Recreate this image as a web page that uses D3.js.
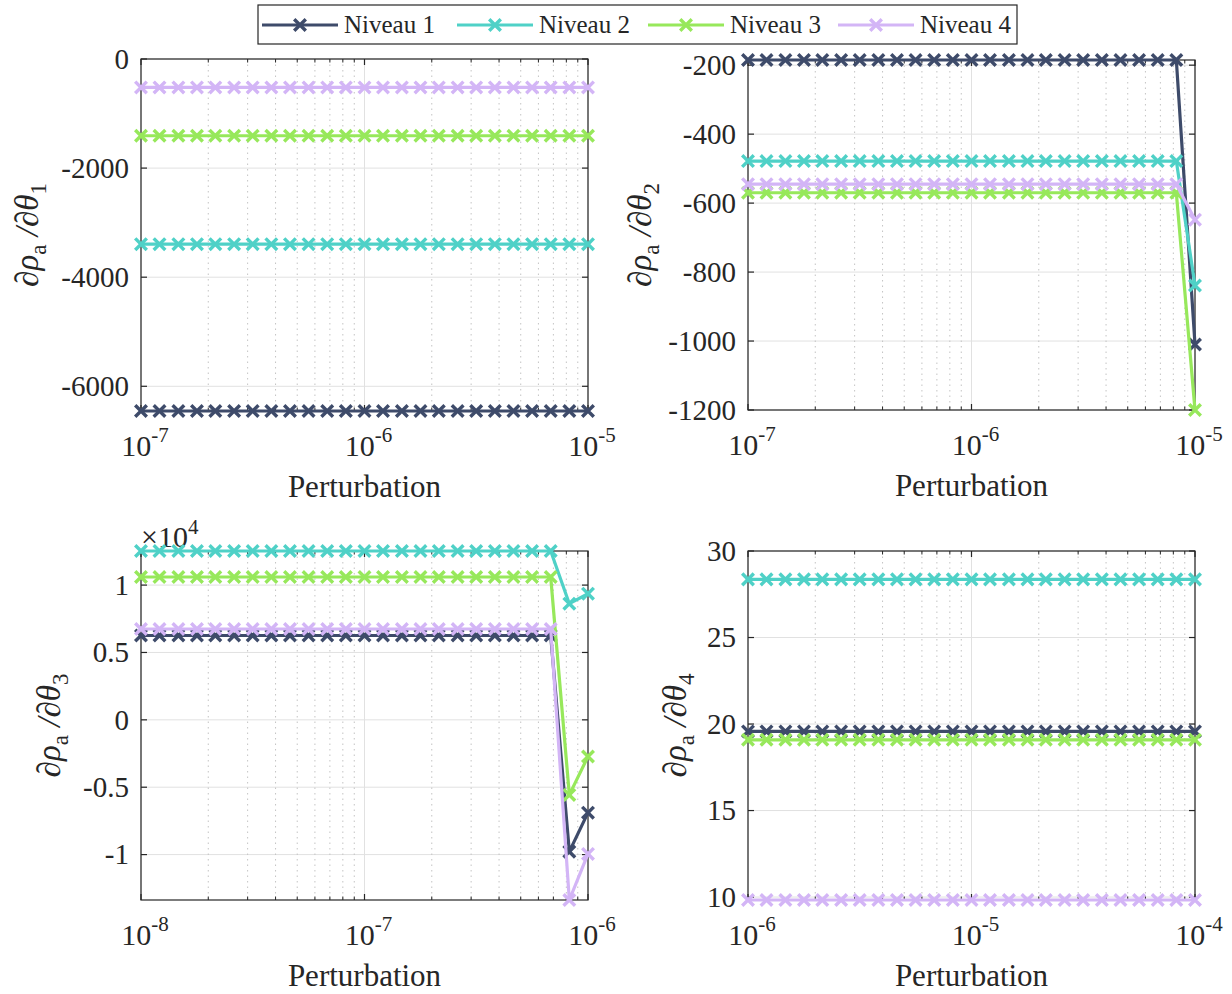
<!DOCTYPE html>
<html>
<head>
<meta charset="utf-8">
<script src="https://cdn.jsdelivr.net/npm/d3@7"></script>
<style>
  html, body { margin: 0; padding: 0; background: #fff; }
  svg { display: block; }
</style>
</head>
<body>
<svg id="chart" width="1232" height="994" font-family="'Liberation Serif', 'DejaVu Serif', serif"></svg>
<script>
// ---------------- DATA ----------------
const seriesNames = ["Niveau 1", "Niveau 2", "Niveau 3", "Niveau 4"];
const seriesColors = ["#3e4b6a", "#4fd1c7", "#97e85b", "#d3b5f6"];

// perturbation multipliers (25 log-spaced samples over two decades)
const pertFactors = [1.00, 1.21, 1.47, 1.78, 2.15, 2.61, 3.16, 3.83, 4.64, 5.62, 6.81, 8.25,
                     10.0, 12.1, 14.7, 17.8, 21.5, 26.1, 31.6, 38.3, 46.4, 56.2, 68.1, 82.5, 100.0];
const pertBase = [1e-7, 1e-7, 1e-8, 1e-6];   // first perturbation of each panel

// Panel 1 : dρa/dθ1
const p1_n1 = [-6453,-6453,-6453,-6453,-6453,-6453,-6453,-6453,-6453,-6453,-6453,-6453,-6453,-6453,-6453,-6453,-6453,-6453,-6453,-6453,-6453,-6453,-6453,-6453,-6453];
const p1_n2 = [-3394,-3394,-3394,-3394,-3394,-3394,-3394,-3394,-3394,-3394,-3394,-3394,-3394,-3394,-3394,-3394,-3394,-3394,-3394,-3394,-3394,-3394,-3394,-3394,-3394];
const p1_n3 = [-1407,-1407,-1407,-1407,-1407,-1407,-1407,-1407,-1407,-1407,-1407,-1407,-1407,-1407,-1407,-1407,-1407,-1407,-1407,-1407,-1407,-1407,-1407,-1407,-1407];
const p1_n4 = [-521,-521,-521,-521,-521,-521,-521,-521,-521,-521,-521,-521,-521,-521,-521,-521,-521,-521,-521,-521,-521,-521,-521,-521,-521];

// Panel 2 : dρa/dθ2
const p2_n1 = [-185,-185,-185,-185,-185,-185,-185,-185,-185,-185,-185,-185,-185,-185,-185,-185,-185,-185,-185,-185,-185,-185,-185,-185,-1010];
const p2_n2 = [-478,-478,-478,-478,-478,-478,-478,-478,-478,-478,-478,-478,-478,-478,-478,-478,-478,-478,-478,-478,-478,-478,-478,-478,-839];
const p2_n3 = [-570,-570,-570,-570,-570,-570,-570,-570,-570,-570,-570,-570,-570,-570,-570,-570,-570,-570,-570,-570,-570,-570,-570,-570,-1200];
const p2_n4 = [-545,-545,-545,-545,-545,-545,-545,-545,-545,-545,-545,-545,-545,-545,-545,-545,-545,-545,-545,-545,-545,-545,-545,-545,-648];

// Panel 3 : dρa/dθ3
const p3_n1 = [6260,6260,6260,6260,6260,6260,6260,6260,6260,6260,6260,6260,6260,6260,6260,6260,6260,6260,6260,6260,6260,6260,6260,-9780,-6890];
const p3_n2 = [12530,12530,12530,12530,12530,12530,12530,12530,12530,12530,12530,12530,12530,12530,12530,12530,12530,12530,12530,12530,12530,12530,12530,8620,9360];
const p3_n3 = [10600,10600,10600,10600,10600,10600,10600,10600,10600,10600,10600,10600,10600,10600,10600,10600,10600,10600,10600,10600,10600,10600,10600,-5570,-2720];
const p3_n4 = [6740,6740,6740,6740,6740,6740,6740,6740,6740,6740,6740,6740,6740,6740,6740,6740,6740,6740,6740,6740,6740,6740,6740,-13370,-9950];

// Panel 4 : dρa/dθ4
const p4_n1 = [19.57,19.57,19.57,19.57,19.57,19.57,19.57,19.57,19.57,19.57,19.57,19.57,19.57,19.57,19.57,19.57,19.57,19.57,19.57,19.57,19.57,19.57,19.57,19.57,19.57];
const p4_n2 = [28.36,28.36,28.36,28.36,28.36,28.36,28.36,28.36,28.36,28.36,28.36,28.36,28.36,28.36,28.36,28.36,28.36,28.36,28.36,28.36,28.36,28.36,28.36,28.36,28.36];
const p4_n3 = [19.09,19.09,19.09,19.09,19.09,19.09,19.09,19.09,19.09,19.09,19.09,19.09,19.09,19.09,19.09,19.09,19.09,19.09,19.09,19.09,19.09,19.09,19.09,19.09,19.09];
const p4_n4 = [9.83,9.83,9.83,9.83,9.83,9.83,9.83,9.83,9.83,9.83,9.83,9.83,9.83,9.83,9.83,9.83,9.83,9.83,9.83,9.83,9.83,9.83,9.83,9.83,9.83];

// axis limits and ticks
const yDomains = [[-6453, 0], [-1200, -185], [-13370, 12530], [9.83, 30]];
const yTicks = [[0, -2000, -4000, -6000],
                [-200, -400, -600, -800, -1000, -1200],
                [-10000, -5000, 0, 5000, 10000],
                [10, 15, 20, 25, 30]];
const yTickLabels = [["0", "-2000", "-4000", "-6000"],
                     ["-200", "-400", "-600", "-800", "-1000", "-1200"],
                     ["-1", "-0.5", "0", "0.5", "1"],
                     ["10", "15", "20", "25", "30"]];
const xDecades = [[-7, -6, -5], [-7, -6, -5], [-8, -7, -6], [-6, -5, -4]];
const ySubscripts = ["1", "2", "3", "4"];
const xLabel = "Perturbation";

// ---------------- LAYOUT ----------------
const FONT = "'Liberation Serif', 'DejaVu Serif', serif";
const panels = [
  { x0: 141, x1: 588, y0: 59, y1: 411, ylabX: 28 },
  { x0: 748, x1: 1195, y0: 60, y1: 410, ylabX: 641 },
  { x0: 141, x1: 588, y0: 551, y1: 900, ylabX: 50 },
  { x0: 748, x1: 1195, y0: 551, y1: 900, ylabX: 676 }
];
const panelSeries = [
  [p1_n1, p1_n2, p1_n3, p1_n4],
  [p2_n1, p2_n2, p2_n3, p2_n4],
  [p3_n1, p3_n2, p3_n3, p3_n4],
  [p4_n1, p4_n2, p4_n3, p4_n4]
];

const svg = d3.select("#chart");
const axisColor = "#262626";
function txt(sel) {
  return sel.append("text").attr("font-family", FONT).attr("fill", axisColor);
}

panels.forEach((P, pi) => {
  const decs = xDecades[pi];
  const x = d3.scaleLog().domain([Math.pow(10, decs[0]), Math.pow(10, decs[decs.length - 1])]).range([P.x0, P.x1]);
  const y = d3.scaleLinear().domain(yDomains[pi]).range([P.y1, P.y0]);
  const g = svg.append("g");

  const minor = [];
  for (let d = 0; d < decs.length - 1; d++) {
    for (let m = 2; m <= 9; m++) minor.push(m * Math.pow(10, decs[d]));
  }
  const major = decs.map(d => Math.pow(10, d));

  // grid
  g.selectAll(".ymaj").data(yTicks[pi]).join("line")
    .attr("x1", P.x0).attr("x2", P.x1)
    .attr("y1", d => y(d)).attr("y2", d => y(d))
    .attr("stroke", "#e1e1e1").attr("stroke-width", 1);
  g.selectAll(".xmin").data(minor).join("line")
    .attr("x1", d => x(d)).attr("x2", d => x(d))
    .attr("y1", P.y0).attr("y2", P.y1)
    .attr("stroke", "#c4c4c4").attr("stroke-width", 1).attr("stroke-dasharray", "1.5,4");
  g.selectAll(".xmaj").data(major).join("line")
    .attr("x1", d => x(d)).attr("x2", d => x(d))
    .attr("y1", P.y0).attr("y2", P.y1)
    .attr("stroke", "#e1e1e1").attr("stroke-width", 1);

  // box
  g.append("rect").attr("x", P.x0).attr("y", P.y0)
    .attr("width", P.x1 - P.x0).attr("height", P.y1 - P.y0)
    .attr("fill", "none").attr("stroke", axisColor).attr("stroke-width", 1.2);

  // ticks (inward, both sides)
  const tk = 6, tkm = 3.5;
  major.forEach(v => {
    g.append("line").attr("x1", x(v)).attr("x2", x(v)).attr("y1", P.y1).attr("y2", P.y1 - tk).attr("stroke", axisColor).attr("stroke-width", 1.2);
    g.append("line").attr("x1", x(v)).attr("x2", x(v)).attr("y1", P.y0).attr("y2", P.y0 + tk).attr("stroke", axisColor).attr("stroke-width", 1.2);
  });
  minor.forEach(v => {
    g.append("line").attr("x1", x(v)).attr("x2", x(v)).attr("y1", P.y1).attr("y2", P.y1 - tkm).attr("stroke", axisColor).attr("stroke-width", 1);
    g.append("line").attr("x1", x(v)).attr("x2", x(v)).attr("y1", P.y0).attr("y2", P.y0 + tkm).attr("stroke", axisColor).attr("stroke-width", 1);
  });
  yTicks[pi].forEach(v => {
    g.append("line").attr("x1", P.x0).attr("x2", P.x0 + tk).attr("y1", y(v)).attr("y2", y(v)).attr("stroke", axisColor).attr("stroke-width", 1.2);
    g.append("line").attr("x1", P.x1).attr("x2", P.x1 - tk).attr("y1", y(v)).attr("y2", y(v)).attr("stroke", axisColor).attr("stroke-width", 1.2);
  });

  // y tick labels
  yTicks[pi].forEach((v, i) => {
    txt(g).attr("x", P.x0 - 12).attr("y", y(v)).attr("dy", "0.34em")
      .attr("text-anchor", "end").attr("font-size", 29).text(yTickLabels[pi][i]);
  });

  // x tick labels 10^n
  decs.forEach(d => {
    const t = txt(g).attr("x", x(Math.pow(10, d)) + 4).attr("y", P.y1 + 45)
      .attr("text-anchor", "middle").attr("font-size", 30);
    t.append("tspan").text("10");
    t.append("tspan").attr("dy", -14).attr("font-size", 21).text(String(d));
  });

  // x label
  txt(g).attr("x", (P.x0 + P.x1) / 2).attr("y", P.y1 + 86)
    .attr("text-anchor", "middle").attr("font-size", 31).text(xLabel);

  // y label
  const cy = (P.y0 + P.y1) / 2;
  const yl = txt(g).attr("transform", `translate(${P.ylabX + 10},${cy}) rotate(-90)`)
    .attr("text-anchor", "middle").attr("font-size", 33);
  yl.append("tspan").attr("font-style", "italic").text("∂ρ");
  yl.append("tspan").attr("font-size", 23).attr("dy", 8).text("a");
  yl.append("tspan").attr("dy", -8).attr("font-style", "italic").text(" /∂θ");
  yl.append("tspan").attr("font-size", 23).attr("dy", 8).text(ySubscripts[pi]);

  // exponent label for panel 3
  if (pi === 2) {
    const ex = txt(g).attr("x", P.x0).attr("y", P.y0 - 4).attr("font-size", 30);
    ex.append("tspan").text("×10");
    ex.append("tspan").attr("dy", -13).attr("font-size", 21).text("4");
  }

  // series
  const xs = pertFactors.map(f => f * pertBase[pi]);
  const line = d3.line().x((d, i) => x(xs[i])).y(d => y(d));
  panelSeries[pi].forEach((vals, si) => {
    const sg = g.append("g");
    sg.append("path").datum(vals).attr("d", line)
      .attr("fill", "none").attr("stroke", seriesColors[si]).attr("stroke-width", 3.2)
      .attr("stroke-linejoin", "round");
    const r = 5.8;
    sg.selectAll("path.mk").data(vals).join("path").attr("class", "mk")
      .attr("d", (d, i) => {
        const cx = x(xs[i]), cy2 = y(d);
        return `M${cx - r},${cy2 - r}L${cx + r},${cy2 + r}M${cx - r},${cy2 + r}L${cx + r},${cy2 - r}`;
      })
      .attr("stroke", seriesColors[si]).attr("stroke-width", 3.4).attr("fill", "none");
  });
});

// ---------------- LEGEND ----------------
const leg = svg.append("g");
leg.append("rect").attr("x", 258).attr("y", 5).attr("width", 759).attr("height", 39)
  .attr("fill", "#fff").attr("stroke", axisColor).attr("stroke-width", 1.2);
const legStarts = [262, 457, 648, 838];
seriesNames.forEach((name, i) => {
  const sx = legStarts[i], ly = 25;
  leg.append("line").attr("x1", sx).attr("x2", sx + 76).attr("y1", ly).attr("y2", ly)
    .attr("stroke", seriesColors[i]).attr("stroke-width", 3.2);
  const r = 5.8, cx = sx + 38;
  leg.append("path").attr("d", `M${cx - r},${ly - r}L${cx + r},${ly + r}M${cx - r},${ly + r}L${cx + r},${ly - r}`)
    .attr("stroke", seriesColors[i]).attr("stroke-width", 3.4);
  txt(leg).attr("x", sx + 82).attr("y", ly).attr("dy", "0.33em")
    .attr("font-size", 25).text(name);
});
</script>
</body>
</html>
